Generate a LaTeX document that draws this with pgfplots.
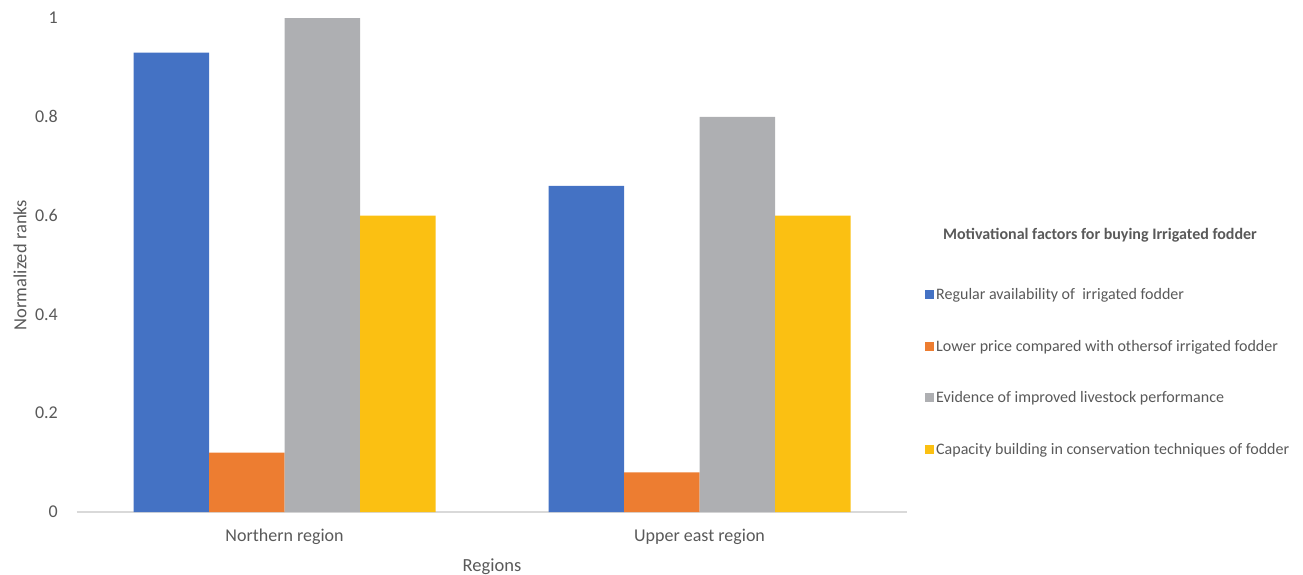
\documentclass[border=0pt]{standalone}
\usepackage{pgfplots}
\pgfplotsset{compat=1.18}
\usepackage{fontspec}
\setmainfont{Carlito}
\definecolor{cblue}{HTML}{4472C4}
\definecolor{corange}{HTML}{ED7D31}
\definecolor{cgray}{HTML}{AEAFB2}
\definecolor{cyellow}{HTML}{FBC012}
\definecolor{ctext}{HTML}{595959}
\definecolor{caxis}{HTML}{D9D9D9}
\begin{document}
\begin{tikzpicture}[x=1pt,y=1pt]
\useasboundingbox (0,0) rectangle (1303,-575);
\begin{axis}[
  at={(77pt,-512pt)}, anchor=south west,
  scale only axis, width=830pt, height=494pt,
  ybar=0pt, bar width=75.5pt,
  xmin=-0.5, xmax=1.5, ymin=0, ymax=1,
  xtick=data, xticklabels={Northern region, Upper east region},
  ytick={0,0.2,0.4,0.6,0.8,1},
  yticklabels={0,0.2,0.4,0.6,0.8,1},
  major tick length=0pt,
  axis x line*=bottom, axis y line*=left,
  y axis line style={draw=none},
  x axis line style={draw=caxis, line width=1.2pt, -},
  ticklabel style={font=\fontsize{18}{20}\selectfont, text=ctext},
  yticklabel style={anchor=east, inner sep=0pt, xshift=-19pt},
  xticklabel style={anchor=center, inner sep=0pt, yshift=-25pt},
  xlabel={Regions}, ylabel={Normalized ranks},
  label style={font=\fontsize{18.5}{20}\selectfont, text=ctext},
  xlabel style={at={(axis description cs:0.5,0)}, anchor=center, yshift=-55pt},
  ylabel style={at={(axis description cs:-0.0687,0.5)}, anchor=center, rotate=0},
  legend style={at={(axis description cs:1.0217,0.2834)}, anchor=west,
    draw=none, fill=none, inner sep=0pt, row sep=35pt,
    font=\fontsize{16}{18}\selectfont, text=ctext,
    /tikz/every even column/.append style={column sep=0pt}},
  legend cell align=left,
  legend image code/.code={\fill[#1] (0pt,-4.5pt) rectangle (9pt,4.5pt);},
  clip=false,
]
\addplot[fill=cblue, draw=none] coordinates {(0,0.93) (1,0.66)};
\addplot[fill=corange, draw=none] coordinates {(0,0.12) (1,0.08)};
\addplot[fill=cgray, draw=none] coordinates {(0,1.0) (1,0.80)};
\addplot[fill=cyellow, draw=none] coordinates {(0,0.60) (1,0.60)};
\legend{Regular availability of\ \ irrigated fodder,
  Lower price compared with othersof irrigated fodder,
  Evidence of improved livestock performance,
  Capacity building in conservation techniques of fodder}
\node[font=\bfseries\fontsize{16}{18}\selectfont, text=ctext, anchor=center]
  at (axis description cs:1.2325,0.5607) {Motivational factors for buying Irrigated fodder};
\end{axis}
\end{tikzpicture}
\end{document}
